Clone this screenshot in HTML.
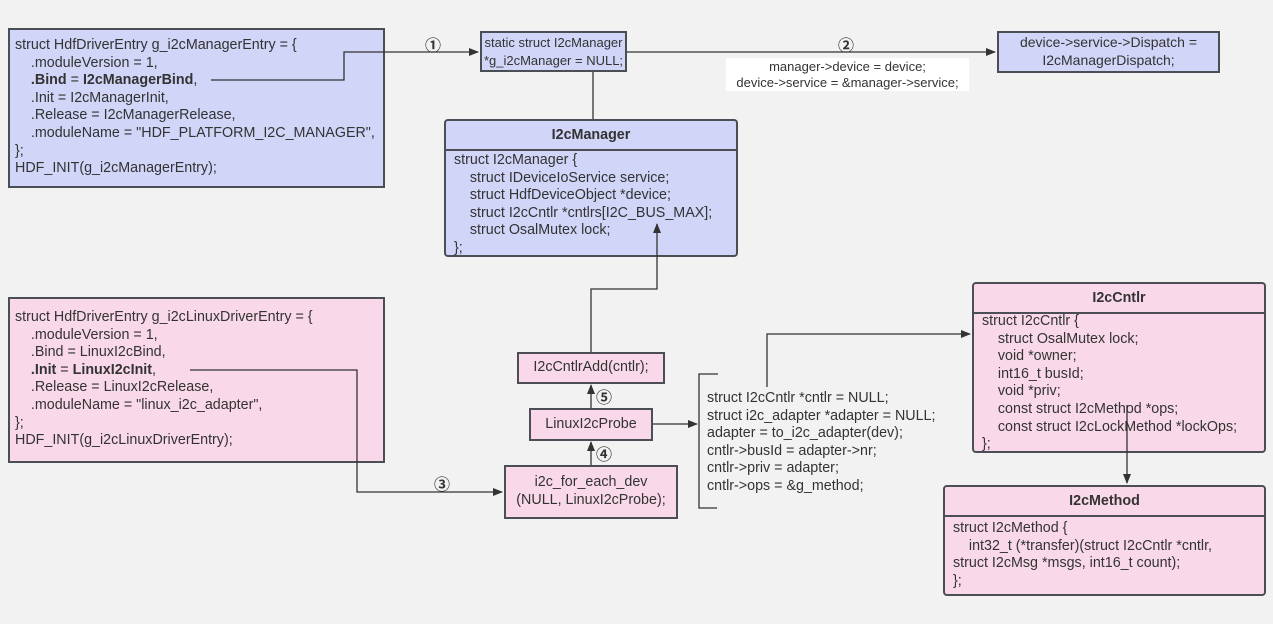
<!DOCTYPE html>
<html><head><meta charset="utf-8"><style>
body{margin:0;width:1273px;height:624px;background:#f2f2f2;position:relative;overflow:hidden;font-family:"Liberation Sans","Noto Sans CJK SC",sans-serif;font-size:14.3px;color:#333;}
.b{position:absolute;box-sizing:border-box;border:2px solid #4b4e55;}
.blue{background:#d1d5f8;}
.pink{background:#f9d9e9;}
.t{position:absolute;white-space:pre;line-height:17.6px;}
.c{display:flex;align-items:center;justify-content:center;text-align:center;line-height:17.6px;white-space:nowrap;}
.hd{position:absolute;left:0;right:0;top:0;border-bottom:2px solid #4b4e55;font-weight:bold;display:flex;align-items:center;justify-content:center;}
.r{border-radius:4px;}
svg{position:absolute;left:0;top:0;}
.n{position:absolute;font-size:16px;font-weight:bold;}
</style></head><body>
<div class="b blue" style="left:8px;top:28px;width:377px;height:160px"></div>
<div class="t" style="left:15px;top:37px">struct HdfDriverEntry g_i2cManagerEntry = {
    .moduleVersion = 1,
    <b>.Bind</b> = <b>I2cManagerBind</b>,
    .Init = I2cManagerInit,
    .Release = I2cManagerRelease,
    .moduleName = "HDF_PLATFORM_I2C_MANAGER",
};
HDF_INIT(g_i2cManagerEntry);</div>

<div class="b blue c" style="left:480px;top:31px;width:147px;height:41px;font-size:13px">static struct I2cManager<br>*g_i2cManager = NULL;</div>
<div class="b blue c" style="left:997px;top:31px;width:223px;height:42px;font-size:14px">device-&gt;service-&gt;Dispatch =<br>I2cManagerDispatch;</div>
<div class="c" style="position:absolute;left:726px;top:58px;width:243px;height:33px;background:#fff;font-size:13px;line-height:16px">manager-&gt;device = device;<br>device-&gt;service = &amp;manager-&gt;service;</div>

<div class="b blue r" style="left:444px;top:119px;width:294px;height:138px"><div class="hd" style="height:28px">I2cManager</div></div>
<div class="t" style="left:454px;top:152px">struct I2cManager {
    struct IDeviceIoService service;
    struct HdfDeviceObject *device;
    struct I2cCntlr *cntlrs[I2C_BUS_MAX];
    struct OsalMutex lock;
};</div>

<div class="b pink" style="left:8px;top:297px;width:377px;height:166px"></div>
<div class="t" style="left:15px;top:309px">struct HdfDriverEntry g_i2cLinuxDriverEntry = {
    .moduleVersion = 1,
    .Bind = LinuxI2cBind,
    <b>.Init</b> = <b>LinuxI2cInit</b>,
    .Release = LinuxI2cRelease,
    .moduleName = "linux_i2c_adapter",
};
HDF_INIT(g_i2cLinuxDriverEntry);</div>

<div class="b pink c" style="left:517px;top:352px;width:148px;height:32px">I2cCntlrAdd(cntlr);</div>
<div class="b pink c" style="left:529px;top:408px;width:124px;height:33px">LinuxI2cProbe</div>
<div class="b pink c" style="left:504px;top:465px;width:174px;height:54px">i2c_for_each_dev<br>(NULL, LinuxI2cProbe);</div>

<div class="t" style="left:707px;top:390px">struct I2cCntlr *cntlr = NULL;
struct i2c_adapter *adapter = NULL;
adapter = to_i2c_adapter(dev);
cntlr-&gt;busId = adapter-&gt;nr;
cntlr-&gt;priv = adapter;
cntlr-&gt;ops = &amp;g_method;</div>

<div class="b pink r" style="left:972px;top:282px;width:294px;height:171px"><div class="hd" style="height:28px">I2cCntlr</div></div>
<div class="t" style="left:982px;top:313px">struct I2cCntlr {
    struct OsalMutex lock;
    void *owner;
    int16_t busId;
    void *priv;
    const struct I2cMethod *ops;
    const struct I2cLockMethod *lockOps;
};</div>

<div class="b pink r" style="left:943px;top:485px;width:323px;height:111px"><div class="hd" style="height:28px">I2cMethod</div></div>
<div class="t" style="left:953px;top:520px">struct I2cMethod {
    int32_t (*transfer)(struct I2cCntlr *cntlr,
struct I2cMsg *msgs, int16_t count);
};</div>

<svg width="1273" height="624">
<defs><marker id="a" markerWidth="10" markerHeight="8" refX="9" refY="4" orient="auto" markerUnits="userSpaceOnUse"><path d="M0,0L10,4L0,8z" fill="#333"/></marker></defs>
<g stroke="#333" stroke-width="1.3" fill="none">
<path d="M211,80H344V52H478" marker-end="url(#a)"/>
<path d="M627,52H995" marker-end="url(#a)"/>
<path d="M593,72V119"/>
<path d="M591,352V289H657V224" marker-end="url(#a)"/>
<path d="M190,370H357V492H502" marker-end="url(#a)"/>
<path d="M591,408V385" marker-end="url(#a)"/>
<path d="M591,465V442" marker-end="url(#a)"/>
<path d="M653,424H697" marker-end="url(#a)"/>
<path d="M718,374H699V508H717"/>
<path d="M767,387V334H970" marker-end="url(#a)"/>
<path d="M1127,405V483" marker-end="url(#a)"/>
</g></svg>
<div class="n" style="left:425px;top:32px">①</div>
<div class="n" style="left:838px;top:32px">②</div>
<div class="n" style="left:434px;top:471px">③</div>
<div class="n" style="left:596px;top:441px">④</div>
<div class="n" style="left:596px;top:384px">⑤</div>
</body></html>
